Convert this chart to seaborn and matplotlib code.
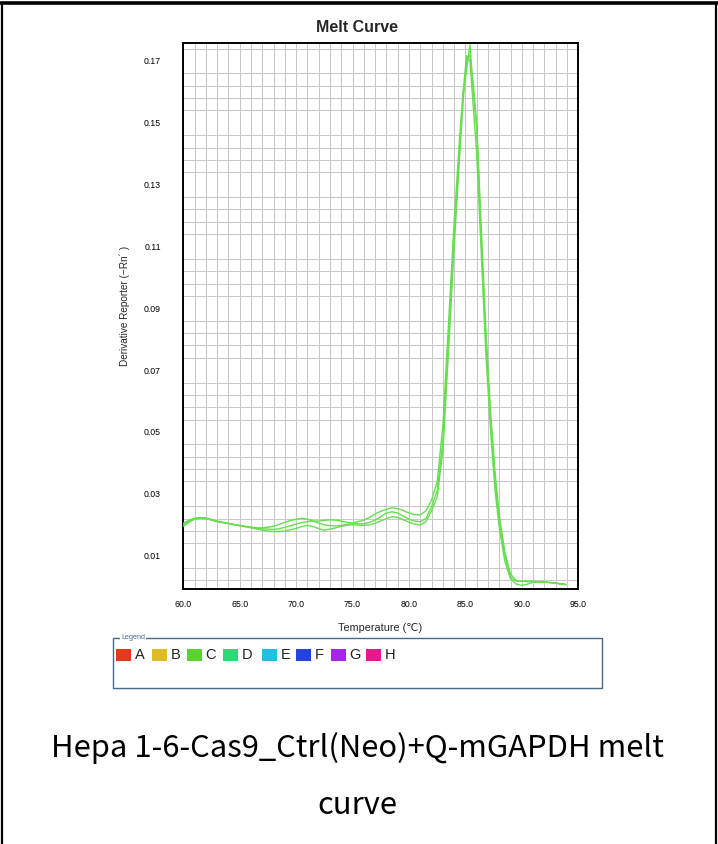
import numpy as np
import pandas as pd
import matplotlib
matplotlib.use("Agg")
import matplotlib.pyplot as plt
import seaborn as sns
from matplotlib.patches import Rectangle
from matplotlib.lines import Line2D
from matplotlib.ticker import MultipleLocator, FixedLocator, FormatStrFormatter

# ---------------- data ----------------
temperature = [60.0, 60.5, 61.0, 61.5, 62.0, 62.5, 63.0, 63.5, 64.0, 64.5, 65.0, 65.5,
               66.0, 66.5, 67.0, 67.5, 68.0, 68.5, 69.0, 69.5, 70.0, 70.5, 71.0, 71.5,
               72.0, 72.5, 73.0, 73.5, 74.0, 74.5, 75.0, 75.5, 76.0, 76.5, 77.0, 77.5,
               78.0, 78.5, 79.0, 79.5, 80.0, 80.5, 81.0, 81.5, 82.0, 82.5, 83.0, 83.5,
               84.0, 84.5, 84.8, 85.1, 85.4, 85.7, 86.0, 86.4, 86.8, 87.2, 87.6, 88.0,
               88.5, 89.0, 89.5, 90.0, 90.5, 91.0, 91.5, 92.0, 92.5, 93.0, 93.5, 93.9]

well_1 = [0.0195, 0.0208, 0.0218, 0.0221, 0.0220, 0.0215, 0.0210, 0.0207, 0.0204, 0.0200, 0.0197, 0.0194,
          0.0192, 0.0190, 0.0190, 0.0192, 0.0195, 0.0201, 0.0208, 0.0214, 0.0218, 0.0221, 0.0218, 0.0212,
          0.0205, 0.0200, 0.0197, 0.0196, 0.0198, 0.0201, 0.0205, 0.0210, 0.0215, 0.0224, 0.0235, 0.0244,
          0.0250, 0.0255, 0.0252, 0.0246, 0.0238, 0.0233, 0.0232, 0.0245, 0.0280, 0.0340, 0.0520, 0.0850,
          0.1180, 0.1460, 0.1600, 0.1670, 0.1752, 0.1600, 0.1480, 0.1120, 0.0800, 0.0550, 0.0350, 0.0210,
          0.0100, 0.0030, 0.0018, 0.0018, 0.0018, 0.0017, 0.0016, 0.0015, 0.0013, 0.0011, 0.0009, 0.0007]

well_2 = [0.0200, 0.0212, 0.0220, 0.0222, 0.0221, 0.0216, 0.0211, 0.0207, 0.0204, 0.0201, 0.0198, 0.0195,
          0.0192, 0.0189, 0.0187, 0.0186, 0.0185, 0.0187, 0.0192, 0.0197, 0.0202, 0.0207, 0.0210, 0.0212,
          0.0212, 0.0214, 0.0216, 0.0215, 0.0212, 0.0208, 0.0205, 0.0203, 0.0203, 0.0208, 0.0215, 0.0226,
          0.0238, 0.0242, 0.0238, 0.0228, 0.0218, 0.0212, 0.0210, 0.0220, 0.0260, 0.0310, 0.0470, 0.0800,
          0.1130, 0.1430, 0.1600, 0.1717, 0.1700, 0.1550, 0.1400, 0.1080, 0.0760, 0.0520, 0.0320, 0.0190,
          0.0080, 0.0025, 0.0008, 0.0004, 0.0008, 0.0014, 0.0016, 0.0015, 0.0013, 0.0011, 0.0008, 0.0006]

well_3 = [0.0205, 0.0215, 0.0221, 0.0223, 0.0222, 0.0217, 0.0212, 0.0208, 0.0205, 0.0201, 0.0197, 0.0194,
          0.0190, 0.0186, 0.0183, 0.0180, 0.0178, 0.0178, 0.0180, 0.0184, 0.0188, 0.0194, 0.0198, 0.0194,
          0.0188, 0.0182, 0.0186, 0.0190, 0.0195, 0.0198, 0.0200, 0.0199, 0.0198, 0.0200, 0.0205, 0.0212,
          0.0220, 0.0226, 0.0224, 0.0216, 0.0208, 0.0202, 0.0199, 0.0210, 0.0245, 0.0290, 0.0440, 0.0760,
          0.1100, 0.1400, 0.1570, 0.1700, 0.1720, 0.1620, 0.1500, 0.1160, 0.0840, 0.0580, 0.0380, 0.0230,
          0.0110, 0.0040, 0.0020, 0.0017, 0.0016, 0.0016, 0.0015, 0.0014, 0.0013, 0.0011, 0.0009, 0.0007]

legend_wells = ["A", "B", "C", "D", "E", "F", "G", "H"]
legend_colors = ["#e23a1e", "#e0bb24", "#5ad42a", "#2fd874", "#22bfe2", "#2342e0", "#a626ee", "#e61a8e"]

title = "Melt Curve"
x_label = "Temperature (\u2103)"
y_label = "Derivative Reporter (\u2212Rn\u00b4 )"
caption_1 = "Hepa 1-6-Cas9_Ctrl(Neo)+Q-mGAPDH melt"
caption_2 = "curve"

y_major = [0.01, 0.03, 0.05, 0.07, 0.09, 0.11, 0.13, 0.15, 0.17]
y_grid = [0.002 + 0.004 * k for k in range(44)]

df = pd.DataFrame({
    "Temperature": temperature * 3,
    "Value": well_1 + well_2 + well_3,
    "Well": ["1"] * len(temperature) + ["2"] * len(temperature) + ["3"] * len(temperature),
})

# ---------------- figure ----------------
sns.set_style("white")
plt.rcParams["font.family"] = ["Liberation Sans", "DejaVu Sans"]

W, H = 718, 844
fig = plt.figure(figsize=(W / 100, H / 100), dpi=100)

def fx(px):
    return px / W

def fy(py):
    return 1 - py / H

ax = fig.add_axes([fx(183.3), fy(589.3), fx(578.3) - fx(183.3), fy(43.3) - fy(589.3)])

line_green = "#66de50"
sns.lineplot(data=df, x="Temperature", y="Value", hue="Well",
             palette=[line_green] * 3, legend=False, estimator=None, sort=False,
             linewidth=1.0, ax=ax, zorder=3)

ax.set_xlim(60, 95)
ax.set_ylim(-0.00087, 0.1757)

ax.xaxis.set_major_locator(MultipleLocator(5))
ax.xaxis.set_minor_locator(MultipleLocator(1))
ax.xaxis.set_major_formatter(FormatStrFormatter("%.1f"))
ax.yaxis.set_major_locator(FixedLocator(y_major))
ax.yaxis.set_minor_locator(FixedLocator(y_grid))
ax.yaxis.set_major_formatter(FormatStrFormatter("%.2f"))

grid_col = "#c8c8c8"
ax.grid(which="minor", axis="x", color=grid_col, linewidth=0.75)
ax.grid(which="major", axis="x", color=grid_col, linewidth=0.75)
ax.grid(which="minor", axis="y", color=grid_col, linewidth=0.75)
ax.set_axisbelow(True)

ax.tick_params(which="major", direction="out", length=4, width=0.8, labelsize=6.3,
               colors="black")
ax.tick_params(which="minor", direction="out", length=3, width=0.7, colors="#444444")
ax.tick_params(axis="x", which="major", pad=4)
ax.tick_params(axis="y", which="major", pad=12)

for s in ax.spines.values():
    s.set_visible(True)
    s.set_color("black")
    s.set_linewidth(1.4)

ax.set_xlabel(x_label, fontsize=7.8)
ax.set_ylabel(y_label, fontsize=7.2)
ax.yaxis.set_label_coords((130 - 183.3) / (578.3 - 183.3), (589.3 - 306) / (589.3 - 43.3))
ax.xaxis.set_label_coords((380.5 - 183.3) / (578.3 - 183.3), (589.3 - 623) / (589.3 - 43.3))

fig.text(fx(357), fy(27), title, ha="center", va="center", fontsize=11.5, fontweight="bold")

# ---------------- legend box ----------------
box = Rectangle((fx(113), fy(688)), fx(602) - fx(113), fy(637.5) - fy(688),
                transform=fig.transFigure, fill=False, edgecolor="#476a86", linewidth=1.0)
fig.add_artist(box)
fig.text(fx(121), fy(637.5), "Legend", ha="left", va="center", fontsize=5.2,
         color="#4a6da0",
         bbox=dict(facecolor="white", edgecolor="none", pad=0.6))
sq_x = [116, 151.7, 186.5, 222.7, 261.7, 295.5, 330.5, 365.5]
for i, (lab, col) in enumerate(zip(legend_wells, legend_colors)):
    r = Rectangle((fx(sq_x[i]), fy(660.5)), fx(15), fy(649) - fy(660.5),
                  transform=fig.transFigure, facecolor=col, edgecolor="none")
    fig.add_artist(r)
    fig.text(fx(sq_x[i] + 19), fy(655), lab, ha="left", va="center",
             fontsize=10.5, color="#222222")

# ---------------- caption ----------------
cap_font = ["Noto Sans CJK SC", "DejaVu Sans"]
fig.text(fx(357), fy(748), caption_1, ha="center", va="center", fontsize=22.3,
         family=cap_font, color="black")
fig.text(fx(357), fy(805), caption_2, ha="center", va="center", fontsize=22.3,
         family=cap_font, color="black")

# ---------------- outer frame ----------------
fig.add_artist(Line2D([fx(0), fx(718)], [fy(3), fy(3)], transform=fig.transFigure,
                      color="black", linewidth=2.6))
fig.add_artist(Line2D([fx(2), fx(2)], [fy(3), fy(844)], transform=fig.transFigure,
                      color="black", linewidth=1.6))
fig.add_artist(Line2D([fx(716), fx(716)], [fy(3), fy(844)], transform=fig.transFigure,
                      color="black", linewidth=1.6))

fig.savefig("out.png", dpi=100)
